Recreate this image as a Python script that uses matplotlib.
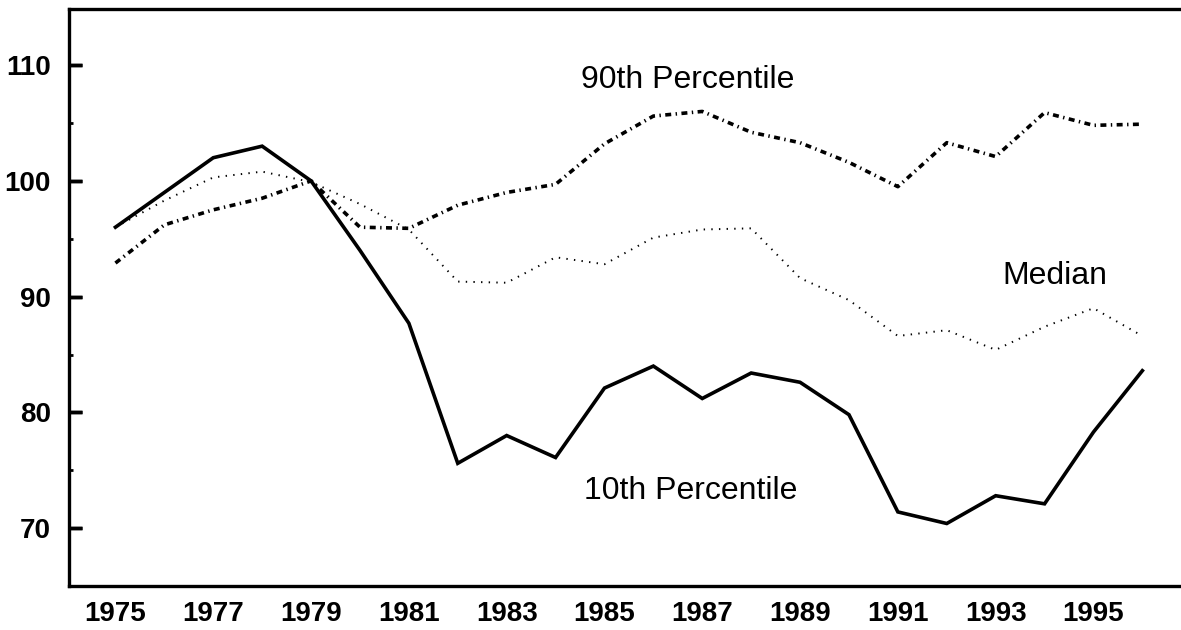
import matplotlib
matplotlib.use("Agg")
import matplotlib.pyplot as plt
from matplotlib.ticker import MultipleLocator

plt.rcParams['font.family'] = ['Liberation Sans', 'DejaVu Sans']
plt.rcParams['lines.scale_dashes'] = False

years = list(range(1975, 1997))
p10 = [96.0, 99.0, 102.0, 103.0, 100.0, 94.0, 87.7, 75.6, 78.0, 76.1, 82.1, 84.0,
       81.2, 83.4, 82.6, 79.8, 71.4, 70.4, 72.8, 72.1, 78.3, 83.6]
p90 = [92.9, 96.2, 97.5, 98.5, 100.0, 96.0, 95.9, 97.9, 99.0, 99.7, 103.2, 105.6,
       106.0, 104.2, 103.3, 101.6, 99.5, 103.3, 102.1, 105.9, 104.8, 104.9]
median = [96.0, 98.3, 100.3, 100.8, 99.9, 98.0, 95.8, 91.3, 91.2, 93.4, 92.8, 95.1,
          95.8, 95.9, 91.6, 89.7, 86.6, 87.1, 85.4, 87.4, 89.0, 86.6]
xtick_years = list(range(1975, 1996, 2))
yticks = [70, 80, 90, 100, 110]
ylim = (65, 114.85)

fig = plt.figure(figsize=(11.81, 6.30), dpi=100)
ax = fig.add_axes([69/1181, 1 - 586/630, (1181 - 69)/1181, (586 - 9)/630])

ax.plot(years, p10, color='black', lw=2.6, solid_joinstyle='miter')
ax.plot(years, p90, color='black', lw=2.6, linestyle=(0, (4.3, 3.2, 1.0, 3.2)))
ax.plot(years, median, color='black', lw=1.4, linestyle=(0, (1.0, 4.5)))

ax.set_xlim(1974.05, 1996.79)
ax.set_ylim(*ylim)

for s in ['left', 'top', 'bottom']:
    ax.spines[s].set_linewidth(2.4)
ax.spines['right'].set_visible(False)

ax.text(1986.71, 108.7, '90th Percentile', fontsize=23, ha='center', va='center')
ax.text(1994.21, 91.8, 'Median', fontsize=23, ha='center', va='center')
ax.text(1986.77, 73.2, '10th Percentile', fontsize=23, ha='center', va='center')

ax.set_xticks(xtick_years)
ax.set_yticks(yticks)
ax.yaxis.set_minor_locator(MultipleLocator(5))
ax.tick_params(axis='x', which='both', length=0, pad=11, labelsize=20)
ax.tick_params(axis='y', which='major', direction='in', length=9.5, width=2.5,
               pad=13, labelsize=20, color='black', left=True)
ax.tick_params(axis='y', which='minor', direction='in', length=3, width=2.0,
               color='black', left=True)
for lab in ax.get_xticklabels() + ax.get_yticklabels():
    lab.set_fontweight('bold')

# second, label-free y axis carrying the long inward major ticks
ax2 = ax.twinx()
ax2.set_ylim(*ylim)
ax2.yaxis.set_ticks_position('left')
ax2.set_yticks(yticks)
ax2.tick_params(axis='y', which='major', direction='in', length=9.5, width=2.5,
                color='black', left=True, right=False,
                labelleft=False, labelright=False)
for s in ax2.spines.values():
    s.set_visible(False)

fig.savefig('out.png', dpi=100)
